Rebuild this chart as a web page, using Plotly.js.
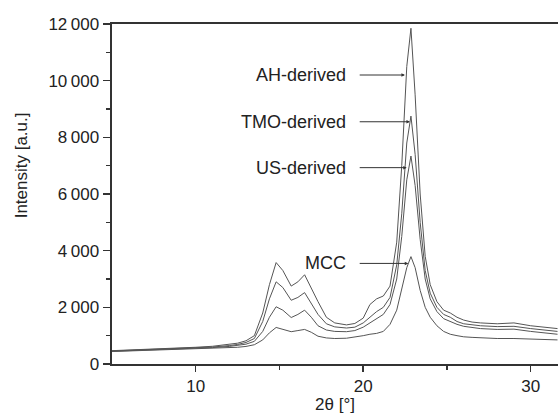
<!DOCTYPE html>
<html>
<head>
<meta charset="utf-8">
<script src="https://cdn.plot.ly/plotly-3.0.1.min.js"></script>
<style>html,body{margin:0;padding:0;background:#fff;}#chart{width:558px;height:414px;}</style>
</head>
<body>
<div id="chart"></div>
<script>
const twoTheta = [5, 6, 7, 8, 9, 10, 11, 12, 12.5, 13, 13.5, 14, 14.4, 14.8, 15.2, 15.7, 16.1, 16.5, 16.9, 17.3, 17.8, 18.3, 19, 19.5, 20, 20.4, 20.8, 21.2, 21.6, 22, 22.3, 22.6, 22.85, 23.1, 23.4, 23.7, 24, 24.4, 24.8, 25.2, 25.6, 26, 26.5, 27, 28, 29, 30, 31, 31.6];

const ahDerived = [470, 495, 505, 535, 545, 590, 625, 690, 735, 820, 1000, 1800, 2800, 3580, 3300, 2750, 2900, 3150, 2650, 2200, 1650, 1450, 1380, 1430, 1620, 2100, 2300, 2400, 2750, 4300, 7000, 10500, 11850, 9500, 6000, 3800, 2800, 2200, 1900, 1800, 1650, 1550, 1480, 1450, 1420, 1450, 1350, 1300, 1250];

const tmoDerived = [460, 480, 500, 515, 545, 570, 600, 650, 690, 760, 900, 1500, 2300, 2900, 2700, 2250, 2350, 2520, 2150, 1750, 1420, 1310, 1270, 1300, 1450, 1650, 1850, 2000, 2350, 3500, 5300, 7800, 8750, 7400, 5000, 3300, 2500, 2000, 1750, 1650, 1500, 1420, 1380, 1350, 1320, 1330, 1250, 1180, 1150];

const usDerived = [450, 470, 490, 505, 520, 550, 580, 620, 650, 700, 800, 1150, 1650, 2020, 1900, 1640, 1750, 1900, 1650, 1350, 1200, 1150, 1140, 1180, 1300, 1450, 1600, 1750, 2100, 3000, 4500, 6500, 7340, 6300, 4400, 3000, 2300, 1850, 1600, 1500, 1400, 1330, 1280, 1250, 1220, 1230, 1150, 1100, 1050];

const mcc = [440, 460, 475, 490, 500, 520, 540, 570, 590, 620, 680, 850, 1100, 1290, 1230, 1140, 1180, 1220, 1120, 980, 920, 900, 910, 950, 1000, 1050, 1080, 1150, 1400, 1900, 2600, 3400, 3790, 3400, 2600, 2000, 1650, 1350, 1150, 1050, 1000, 960, 940, 920, 900, 900, 880, 860, 850];

const yTickVals = [0, 2000, 4000, 6000, 8000, 10000, 12000];
const yTickText = ['0', '2\u2009000', '4\u2009000', '6\u2009000', '8\u2009000', '10\u2009000', '12\u2009000'];
const xTickVals = [10, 20, 30];
const xTickText = ['10', '20', '30'];

const labels = ['AH-derived', 'TMO-derived', 'US-derived', 'MCC'];
const labelY = [10200, 8550, 6930, 3550];
const arrowHeadX = [22.49, 22.79, 22.6, 22.69];

const lineStyle = {color: '#555555', width: 1};
const series = [ahDerived, tmoDerived, usDerived, mcc];
const traces = series.map((s, i) => ({
  x: twoTheta, y: s, type: 'scatter', mode: 'lines', name: labels[i],
  line: lineStyle, showlegend: false, hoverinfo: 'skip'
}));

const font = {family: 'Liberation Sans, Arial, sans-serif', size: 17, color: '#222'};
const annotations = [];
labels.forEach((t, i) => {
  annotations.push({
    x: 19.08, y: labelY[i], xref: 'x', yref: 'y', text: t, showarrow: false,
    xanchor: 'right', yanchor: 'middle', font: {family: font.family, size: 18, color: '#222'}
  });
  annotations.push({
    x: arrowHeadX[i], y: labelY[i], xref: 'x', yref: 'y',
    ax: 19.7, ay: labelY[i], axref: 'x', ayref: 'y',
    text: '', showarrow: true, arrowhead: 2, arrowsize: 0.7, arrowwidth: 1,
    arrowcolor: '#333'
  });
});
annotations.push({
  x: -0.202, y: 0.584, xref: 'paper', yref: 'paper', text: 'Intensity [a.u.]',
  textangle: -90, showarrow: false, xanchor: 'center', yanchor: 'middle', font: font
});

const layout = {
  width: 558, height: 414,
  margin: {l: 112, r: 0, t: 24, b: 50, pad: 0},
  paper_bgcolor: '#fff', plot_bgcolor: '#fff',
  font: font,
  xaxis: {
    range: [5, 31.63], showgrid: false, zeroline: false,
    showline: true, linecolor: '#333', linewidth: 2, mirror: true,
    ticks: 'outside', ticklen: 6, tickwidth: 1.5, tickcolor: '#333',
    tickvals: xTickVals, ticktext: xTickText,
    minor: {tickvals: [15, 25], ticks: 'outside', ticklen: 4, tickwidth: 1.5, tickcolor: '#333'},
    title: {text: '2θ [°]', font: font, standoff: 4}
  },
  yaxis: {
    range: [0, 12000], showgrid: false, zeroline: false,
    showline: true, linecolor: '#333', linewidth: 2.5,
    ticks: 'outside', ticklen: 7, tickwidth: 1.5, tickcolor: '#333',
    tickvals: yTickVals, ticktext: yTickText,
    minor: {tickvals: [1000, 3000, 5000, 7000, 9000, 11000], ticks: 'outside', ticklen: 4, tickwidth: 1.5, tickcolor: '#333'}
  },
  annotations: annotations
};

Plotly.newPlot('chart', traces, layout, {staticPlot: true, displayModeBar: false});
</script>
</body>
</html>
